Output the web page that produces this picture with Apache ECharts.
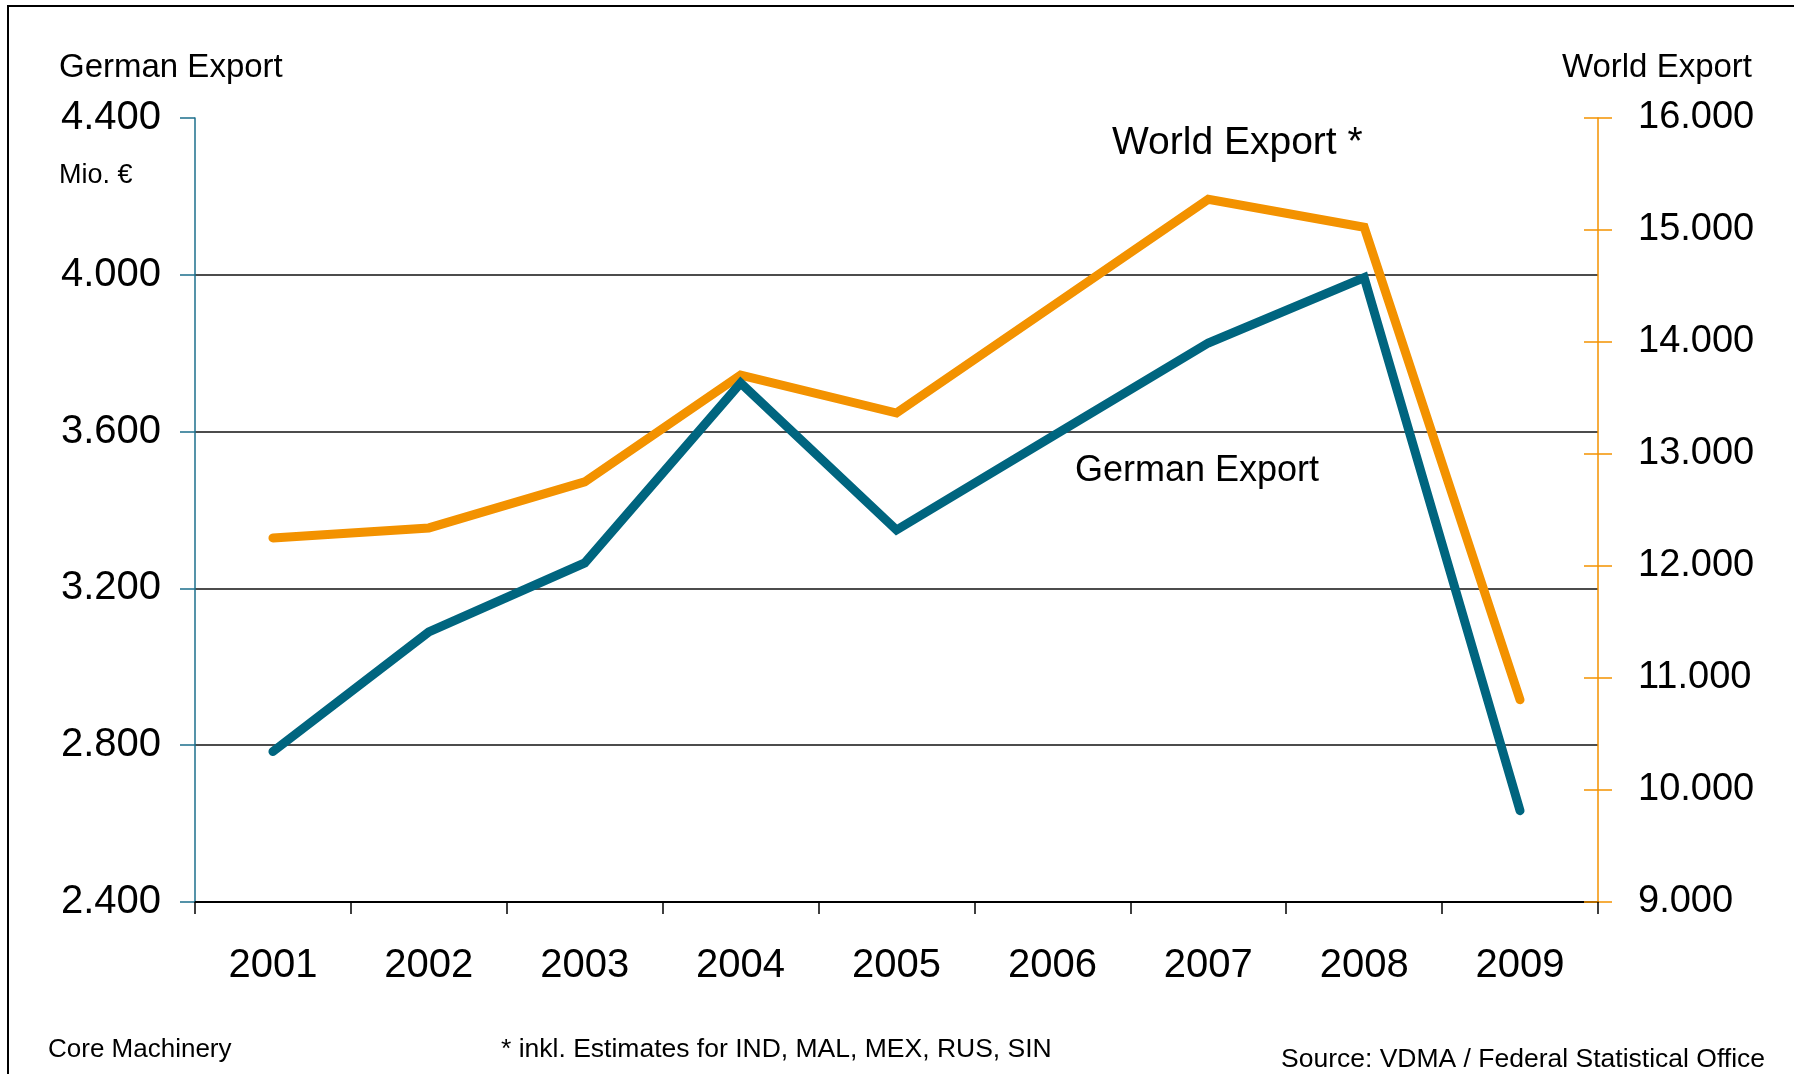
<!DOCTYPE html>
<html>
<head>
<meta charset="utf-8">
<script src="https://cdn.jsdelivr.net/npm/echarts@6/dist/echarts.min.js"></script>
<style>
  html, body { margin: 0; padding: 0; background: #fff; }
  #chart { width: 1794px; height: 1074px; }
</style>
</head>
<body>
<div id="chart"></div>
<script>
(function () {
  var chartDom = document.getElementById('chart');
  var myChart = echarts.init(chartDom);
  var option;

  // data
  let years = ['2001', '2002', '2003', '2004', '2005', '2006', '2007', '2008', '2009'];
  let germanExport = [2784, 3089, 3265, 3724, 3349, 3588, 3826, 3993, 2633];
  let worldExport = [12251, 12340, 12751, 13704, 13366, 14320, 15275, 15025, 10805];

  const FONT = 'Liberation Sans, Arial, sans-serif';
  const TEAL = '#00657f';
  const ORANGE = '#f39200';

  // 4400 -> "4.400"
  function dots(v) {
    return String(v).replace(/\B(?=(\d{3})+(?!\d))/g, '.');
  }

  function txt(text, x, y, size, align) {
    return {
      type: 'text',
      x: x,
      y: y,
      silent: true,
      style: {
        text: text,
        fill: '#000',
        fontSize: size,
        fontFamily: FONT,
        align: align || 'left',
        verticalAlign: 'middle'
      }
    };
  }

  option = {
    backgroundColor: '#fff',
    animation: false,
    grid: {
      left: 195,
      right: 196,
      top: 118,
      bottom: 172
    },
    xAxis: {
      type: 'category',
      data: years,
      boundaryGap: true,
      axisLine: { lineStyle: { color: '#000', width: 2 } },
      axisTick: { show: true, length: 12, lineStyle: { color: '#000', width: 1.5 } },
      axisLabel: {
        color: '#000',
        fontSize: 40,
        fontFamily: FONT,
        margin: 44
      },
      splitLine: { show: false }
    },
    yAxis: [
      {
        type: 'value',
        position: 'left',
        min: 2400,
        max: 4400,
        interval: 400,
        axisLine: { show: true, lineStyle: { color: '#1d6f8c', width: 1.5 } },
        axisTick: { show: true, length: 15, lineStyle: { color: '#1d6f8c', width: 1.5 } },
        axisLabel: {
          color: '#000',
          fontSize: 40,
          fontFamily: FONT,
          margin: 34,
          formatter: dots
        },
        splitLine: {
          show: true,
          showMinLine: false,
          showMaxLine: false,
          lineStyle: { color: '#111', width: 1.5 }
        }
      },
      {
        type: 'value',
        position: 'right',
        min: 9000,
        max: 16000,
        interval: 1000,
        axisLine: { show: true, lineStyle: { color: ORANGE, width: 1.5 } },
        axisTick: { show: true, length: 14, lineStyle: { color: ORANGE, width: 1.5 } },
        axisLabel: {
          color: '#000',
          fontSize: 38,
          fontFamily: FONT,
          margin: 40,
          formatter: dots
        },
        splitLine: { show: false }
      },
      {
        // second copy of the right axis, only for the inner half of the ticks
        type: 'value',
        position: 'right',
        min: 9000,
        max: 16000,
        interval: 1000,
        axisLine: { show: false },
        axisTick: { show: true, inside: true, length: 14, lineStyle: { color: ORANGE, width: 1.5 } },
        axisLabel: { show: false },
        splitLine: { show: false }
      }
    ],
    series: [
      {
        name: 'World Export',
        type: 'line',
        yAxisIndex: 1,
        data: worldExport,
        showSymbol: false,
        silent: true,
        lineStyle: { color: ORANGE, width: 9, cap: 'round', join: 'miter' },
        z: 3
      },
      {
        name: 'German Export',
        type: 'line',
        yAxisIndex: 0,
        data: germanExport,
        showSymbol: false,
        silent: true,
        lineStyle: { color: TEAL, width: 9, cap: 'round', join: 'miter' },
        z: 4
      }
    ],
    graphic: [
      {
        type: 'rect',
        silent: true,
        shape: { x: 8, y: 6, width: 2000, height: 2000 },
        style: { fill: 'none', stroke: '#000', lineWidth: 2 }
      },
      txt('German Export', 59, 68, 33),
      txt('Mio. €', 59, 176, 27),
      txt('World Export', 1752, 68, 33, 'right'),
      txt('World Export *', 1112, 143, 39),
      txt('German Export', 1075, 471, 36),
      txt('Core Machinery', 48, 1050, 26),
      txt('* inkl. Estimates for IND, MAL, MEX, RUS, SIN', 501, 1050, 26.5),
      txt('Source: VDMA / Federal Statistical Office', 1281, 1060, 26.5)
    ]
  };

  option && myChart.setOption(option);

  window.addEventListener('resize', function () {
    myChart.resize();
  });
})();
</script>
</body>
</html>
